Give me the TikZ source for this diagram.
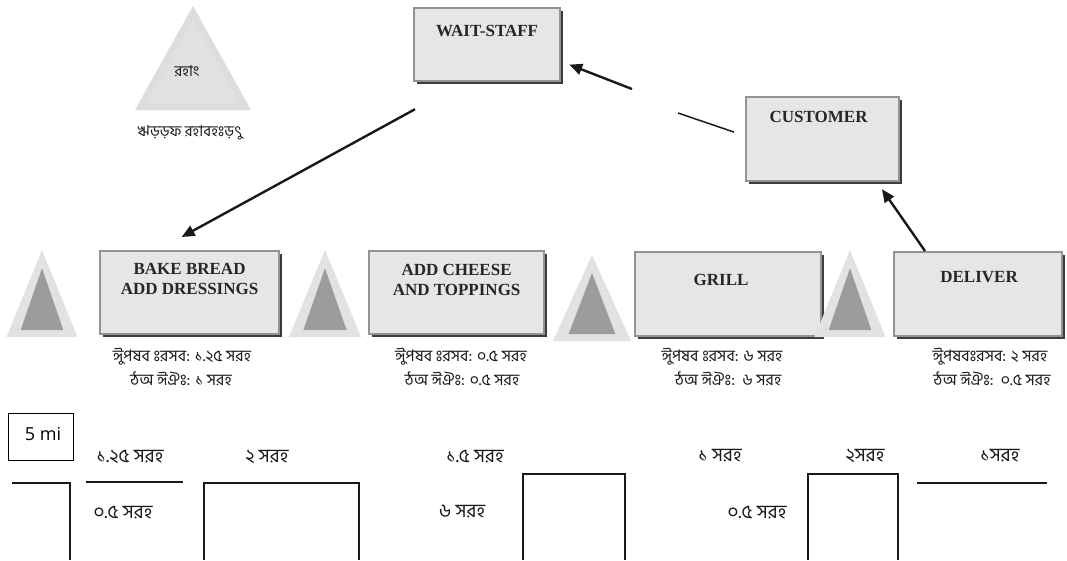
\documentclass[tikz,border=0pt]{standalone}
\usepackage{fontspec}
\setmainfont{Liberation Serif}
\newfontfamily\bn[Script=Bengali]{Hind Siliguri}
\newfontfamily\osans{Open Sans}
\usetikzlibrary{arrows.meta,shadows,calc}

% a visarga that opens a word: placed as a bare glyph so that no
% cluster placeholder is drawn before it
\newcommand\vis{\XeTeXglyph\XeTeXcharglyph"0983\relax}

\definecolor{boxfill}{HTML}{E6E6E8}
\definecolor{boxedge}{HTML}{939393}
\definecolor{boxshade}{HTML}{3C3C3C}
\definecolor{invout}{HTML}{E2E2E2}
\definecolor{invin}{HTML}{9C9C9C}
\definecolor{stockout}{HTML}{DDDDDD}
\definecolor{stockin}{HTML}{E1E1E1}

\tikzset{
  proc/.style={draw=boxedge, line width=2.2pt, fill=boxfill, inner sep=0pt,
    anchor=north west,
    drop shadow={shadow xshift=3pt, shadow yshift=-3pt, fill=boxshade, opacity=1}},
  title/.style={font=\fontsize{17}{20}\selectfont\bfseries, text=black!85, align=center, inner sep=0pt},
  info/.style={font=\bn\fontsize{16}{18}\selectfont, text=black!90, inner sep=0pt},
  tlabel/.style={font=\bn\fontsize{19}{21}\selectfont, text=black!90, inner sep=0pt},
  flow/.style={line width=2.4pt, draw=black!90, -{Triangle[length=13pt,width=11pt]}},
  plainline/.style={line width=1.5pt, draw=black!90},
  tl/.style={line width=1.4pt, draw=black!90},
  pics/invtri/.style n args={2}{code={
    \fill[invout] (0,0) -- (-#1,#2) -- (#1,#2) -- cycle;
    \fill[invin] (0,0.21*#2) -- (-0.6*#1,0.92*#2) -- (0.6*#1,0.92*#2) -- cycle;
  }}
}

\begin{document}
\begin{tikzpicture}[x=1pt,y=-1pt]
\useasboundingbox[fill=white] (0,0) rectangle (1067,560);

% stock triangle at the top left
\fill[stockout] (193,6) -- (135,110) -- (251,110) -- cycle;
\fill[stockin] (193,20) -- (147,103) -- (240,103) -- cycle;
\node[info, font=\bn\fontsize{15}{17}\selectfont] (stock) at (187,71) {রহাং};
\node[info, font=\bn\fontsize{15}{17}\selectfont] (stocklbl) at (190,133) {ঋড়ড়ফ রহাবহঃড়ৎু};

% information boxes
\node[proc, minimum width=146pt, minimum height=73pt] (ws) at (413,7) {};
\node[title, anchor=center] (wst) at ($(ws.north)+(0,24)$) {WAIT-STAFF};
\node[proc, minimum width=153pt, minimum height=84pt] (cust) at (745,96) {};
\node[title, anchor=center] (custt) at ($(cust.north)+(-4,21)$) {CUSTOMER};

% process boxes
\node[proc, minimum width=179pt, minimum height=83pt] (bake) at (99,250) {};
\node[title, anchor=center] (baket) at ($(bake.north)+(0,29)$) {BAKE BREAD\\ADD DRESSINGS};
\node[proc, minimum width=175pt, minimum height=83pt] (cheese) at (368,250) {};
\node[title, anchor=center] (cheeset) at ($(cheese.north)+(0,30)$) {ADD CHEESE\\AND TOPPINGS};
\node[proc, minimum width=186pt, minimum height=84pt] (grill) at (634,251) {};
\node[title, anchor=center] (grillt) at ($(grill.north)+(-7,29)$) {GRILL};
\node[proc, minimum width=168pt, minimum height=84pt] (deliver) at (893,251) {};
\node[title, anchor=center] (delivert) at ($(deliver.north)+(1,26)$) {DELIVER};

% inventory triangles between the processes
\pic at (42,250) {invtri={35.5}{87}};
\pic at (325,250) {invtri={36}{87}};
\pic at (592,255) {invtri={39}{86}};
\pic at (850,250) {invtri={35.5}{87}};

% process data
\node[info] (d1a) at (182,357) {ঈুপষব \vis রসব: ১.২৫ সরহ};
\node[info] (d1b) at (181,379) {ঠঅ ঈঐঃ: ১ সরহ};
\node[info] (d2a) at (461,357) {ঈুপষব \vis রসব: ০.৫ সরহ};
\node[info] (d2b) at (462,379) {ঠঅ ঈঐঃ: ০.৫ সরহ};
\node[info] (d3a) at (722,357) {ঈুপষব \vis রসব: ৬ সরহ};
\node[info] (d3b) at (728,379) {ঠঅ ঈঐঃ:\ \ ৬ সরহ};
\node[info] (d4a) at (990,357) {ঈুপষবঃরসব: ২ সরহ};
\node[info] (d4b) at (992,379) {ঠঅ ঈঐঃ:\ \ ০.৫ সরহ};

% information flow
\coordinate (g1) at (678,113);
\coordinate (g2) at (632,89);
\draw[plainline] ($(cust.west)+(-11,-7)$) -- (g1);
\draw[flow] (g2) -- ($(ws.east)+(8,20)$);
\draw[flow] ($(ws.south west)+(2,27)$) -- ($(bake.north)+(-8,-13)$);
\draw[flow] ($(deliver.north west)+(32,0)$) -- ($(cust.south west)+(137,7)$);

% distance box
\node[draw, line width=1.2pt, minimum width=65pt, minimum height=47pt, inner sep=0pt,
      anchor=north west] (dist) at (8,413) {};
\node[font=\osans\fontsize{18}{20}\selectfont, inner sep=0pt] (distt) at ($(dist.center)+(2,-3)$) {5 mi};

% timeline
\draw[tl] (12,483) -- (70,483) -- (70,560);
\draw[tl] (86,482) -- (183,482);
\draw[tl] (204,560) -- (204,483) -- (359,483) -- (359,560);
\draw[tl] (523,560) -- (523,474) -- (625,474) -- (625,560);
\draw[tl] (808,560) -- (808,474) -- (898,474) -- (898,560);
\draw[tl] (917,483) -- (1047,483);

\node[tlabel] (t1) at (130,457) {১.২৫ সরহ};
\node[tlabel] (t2) at (267,457) {২ সরহ};
\node[tlabel] (t3) at (123,512) {০.৫ সরহ};
\node[tlabel] (t4) at (475,456) {১.৫ সরহ};
\node[tlabel] (t5) at (462,512) {৬ সরহ};
\node[tlabel] (t6) at (720,456) {১ সরহ};
\node[tlabel] (t7) at (757,512) {০.৫ সরহ};
\node[tlabel] (t8) at (865,456) {২সরহ};
\node[tlabel] (t9) at (1000,456) {১সরহ};
\end{tikzpicture}
\end{document}
